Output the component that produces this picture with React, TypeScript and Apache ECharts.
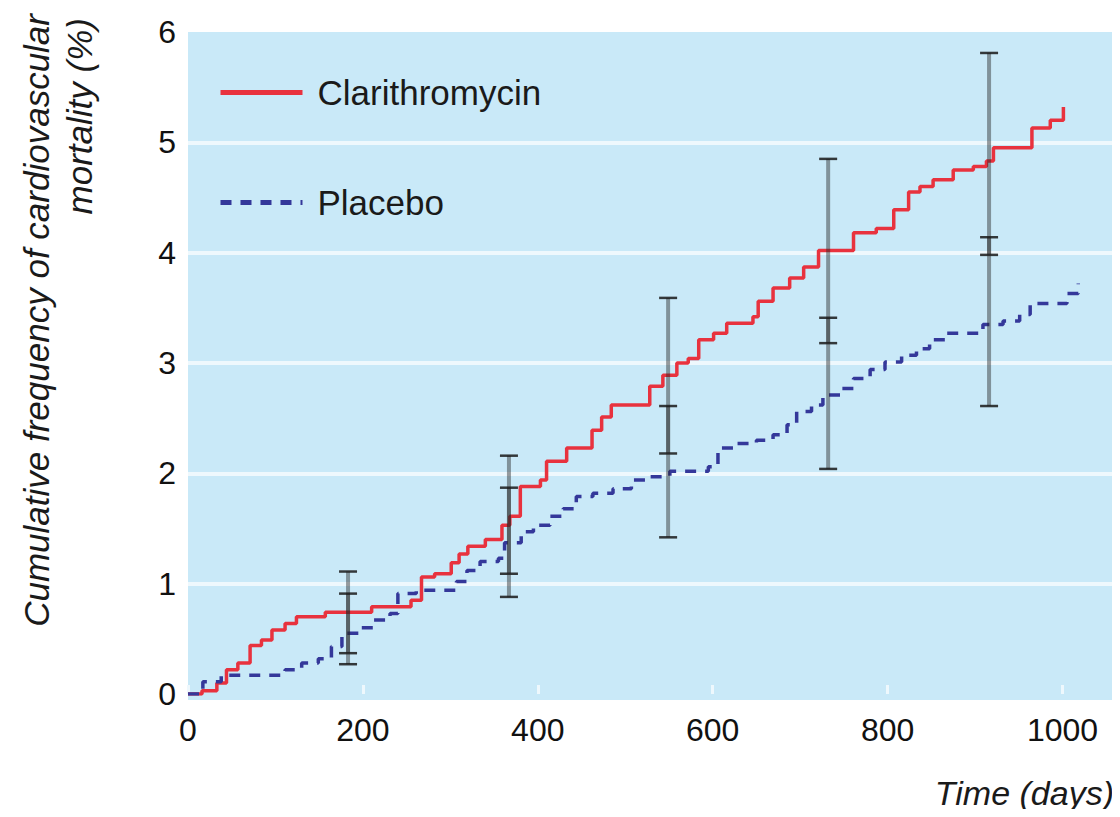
import React, { useEffect, useRef } from "react";
import * as echarts from "echarts";

// ---- Data ----
const clariDays = [0, 16, 33, 44, 57, 71, 84, 96, 111, 124, 157, 210, 255, 267, 282, 301, 310, 320, 340, 359, 368, 380, 403, 410, 433, 462, 473, 484, 528, 543, 559, 572, 584, 601, 616, 646, 652, 669, 688, 704, 721, 761, 787, 807, 824, 837, 852, 875, 898, 913, 921, 965, 986, 1001];
const clariValues = [0, 0.03, 0.1, 0.22, 0.28, 0.44, 0.49, 0.58, 0.64, 0.7, 0.74, 0.79, 0.85, 1.06, 1.09, 1.19, 1.27, 1.34, 1.4, 1.53, 1.61, 1.88, 1.94, 2.11, 2.23, 2.39, 2.51, 2.62, 2.79, 2.89, 3.0, 3.04, 3.21, 3.27, 3.36, 3.42, 3.56, 3.68, 3.77, 3.87, 4.02, 4.18, 4.22, 4.39, 4.55, 4.6, 4.66, 4.75, 4.78, 4.83, 4.95, 5.13, 5.2, 5.32];

const placeboDays = [0, 17, 38, 111, 130, 149, 164, 176, 195, 212, 231, 240, 261, 307, 319, 334, 355, 362, 381, 395, 414, 429, 444, 463, 486, 507, 528, 551, 595, 606, 627, 650, 669, 685, 696, 713, 726, 746, 761, 780, 797, 816, 833, 848, 868, 909, 932, 951, 963, 1005, 1018];
const placeboValues = [0, 0.11, 0.17, 0.22, 0.28, 0.32, 0.43, 0.55, 0.6, 0.67, 0.73, 0.91, 0.94, 1.02, 1.12, 1.2, 1.23, 1.37, 1.47, 1.53, 1.61, 1.68, 1.79, 1.82, 1.86, 1.94, 1.97, 2.02, 2.06, 2.23, 2.27, 2.3, 2.35, 2.44, 2.56, 2.62, 2.71, 2.77, 2.86, 2.94, 3.01, 3.07, 3.13, 3.21, 3.27, 3.35, 3.38, 3.44, 3.54, 3.63, 3.72];

const ciDays = [183, 367, 549, 732, 916];
const clariLow = [0.37, 1.09, 2.18, 3.18, 3.98];
const clariHigh = [1.11, 2.16, 3.59, 4.85, 5.81];
const placeboLow = [0.27, 0.88, 1.42, 2.04, 2.61];
const placeboHigh = [0.91, 1.87, 2.61, 3.41, 4.14];

const xTicks = [0, 200, 400, 600, 800, 1000];
const yTicks = [0, 1, 2, 3, 4, 5, 6];

const seriesNames = ["Clarithromycin", "Placebo"];
const yTitleLines = ["Cumulative frequency of cardiovascular", "mortality (%)"];
const xTitle = "Time (days)";

const FONT = "Liberation Sans";

export default function App() {
  const ref = useRef<HTMLDivElement>(null);

  useEffect(() => {
    if (!ref.current) return;
    const chart = echarts.init(ref.current, undefined, { renderer: "svg" });

    const clariData = clariDays.map((d, i) => [d, clariValues[i]]);
    const placeboData = placeboDays.map((d, i) => [d, placeboValues[i]]);
    const ciData: number[][] = [];
    ciDays.forEach((d, i) => {
      ciData.push([d, clariLow[i], clariHigh[i]]);
      ciData.push([d, placeboLow[i], placeboHigh[i]]);
    });

    const option: any = {
      animation: false,
      backgroundColor: "#ffffff",
      grid: { left: 188, right: 5, top: 32, bottom: 123, containLabel: false },
      legend: {
        data: seriesNames,
        orient: "vertical",
        left: 213,
        top: 70,
        itemWidth: 82,
        itemHeight: 14,
        itemGap: 75,
        itemStyle: { opacity: 0 },
        lineStyle: { width: 5 },
        textStyle: { fontSize: 35, color: "#1a1a1a", fontFamily: FONT, padding: [0, 0, 0, 10] },
      },
      xAxis: {
        type: "value",
        min: 0,
        max: 1060,
        interval: 200,
        offset: 6,
        axisLine: { show: false },
        axisTick: { show: true, inside: true, length: 9, lineStyle: { color: "#eef8fd", width: 3 } },
        splitLine: { show: false },
        axisLabel: {
          fontSize: 32,
          color: "#111",
          fontFamily: FONT,
          margin: 14,
          showMaxLabel: false,
          formatter: (v: number) => (xTicks.includes(v) ? String(v) : ""),
        },
      },
      yAxis: {
        type: "value",
        min: 0,
        max: 6,
        interval: 1,
        axisLine: { show: false },
        axisTick: { show: false },
        splitLine: { show: true, showMinLine: false, showMaxLine: false, lineStyle: { color: "#eef8fd", width: 4 } },
        axisLabel: {
          fontSize: 32,
          color: "#111",
          fontFamily: FONT,
          margin: 12,
          padding: [0, 0, 10, 0],
          formatter: (v: number) => (yTicks.includes(v) ? String(v) : ""),
        },
      },
      graphic: [
        {
          type: "rect",
          z: -10,
          silent: true,
          shape: { x: 188, y: 32, width: 927, height: 668 },
          style: { fill: "#c9e9f8" },
        },
        {
          type: "text",
          x: 36,
          y: 14,
          rotation: Math.PI / 2,
          style: {
            text: yTitleLines[0],
            fontSize: 35,
            fontStyle: "italic",
            fontFamily: FONT,
            fill: "#1a1a1a",
            align: "right",
            verticalAlign: "middle",
            textAlign: "right",
            textVerticalAlign: "middle",
          },
        },
        {
          type: "text",
          x: 79,
          y: 18,
          rotation: Math.PI / 2,
          style: {
            text: yTitleLines[1],
            fontSize: 35,
            fontStyle: "italic",
            fontFamily: FONT,
            fill: "#1a1a1a",
            align: "right",
            verticalAlign: "middle",
            textAlign: "right",
            textVerticalAlign: "middle",
          },
        },
        {
          type: "text",
          x: 1114,
          y: 793,
          style: {
            text: xTitle,
            fontSize: 34,
            fontStyle: "italic",
            fontFamily: FONT,
            fill: "#1a1a1a",
            align: "right",
            verticalAlign: "middle",
            textAlign: "right",
            textVerticalAlign: "middle",
          },
        },
      ],
      series: [
        {
          name: seriesNames[0],
          type: "line",
          step: "end",
          data: clariData,
          symbol: "none",
          z: 3,
          lineStyle: { color: "#e8323e", width: 3.5 },
          itemStyle: { color: "#e8323e" },
        },
        {
          name: seriesNames[1],
          type: "line",
          step: "end",
          data: placeboData,
          symbol: "none",
          z: 3,
          lineStyle: { color: "#34389a", width: 3.5, type: [11, 9] },
          itemStyle: { color: "#34389a" },
        },
        {
          name: "CI",
          type: "custom",
          z: 5,
          data: ciData,
          encode: { x: 0, y: [1, 2] },
          renderItem: (params: any, api: any) => {
            const x = api.value(0);
            const lo = api.coord([x, api.value(1)]);
            const hi = api.coord([x, api.value(2)]);
            const cap = 9;
            return {
              type: "group",
              children: [
                {
                  type: "line",
                  shape: { x1: lo[0], y1: lo[1], x2: hi[0], y2: hi[1] },
                  style: { stroke: "rgba(40,40,40,0.45)", lineWidth: 4 },
                },
                {
                  type: "line",
                  shape: { x1: lo[0] - cap, y1: lo[1], x2: lo[0] + cap, y2: lo[1] },
                  style: { stroke: "rgba(25,25,25,0.85)", lineWidth: 2.5 },
                },
                {
                  type: "line",
                  shape: { x1: hi[0] - cap, y1: hi[1], x2: hi[0] + cap, y2: hi[1] },
                  style: { stroke: "rgba(25,25,25,0.85)", lineWidth: 2.5 },
                },
              ],
            };
          },
        },
      ],
    };

    chart.setOption(option);
    return () => chart.dispose();
  }, []);

  return <div ref={ref} style={{ width: 1120, height: 817, margin: -8 }} />;
}
